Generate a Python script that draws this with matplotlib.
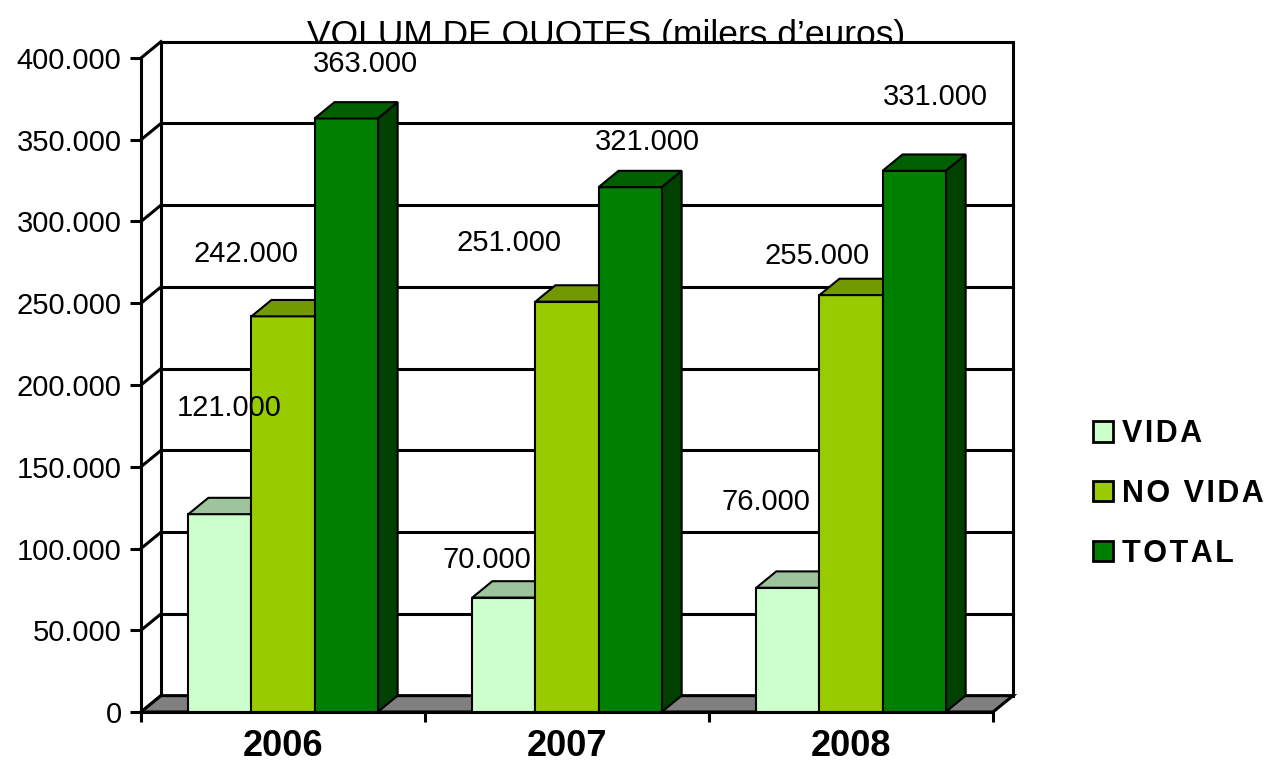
import matplotlib
matplotlib.use('Agg')
import matplotlib.pyplot as plt
from matplotlib.patches import Polygon, Patch, Rectangle


years = ['2006', '2007', '2008']
series = ['VIDA', 'NO VIDA', 'TOTAL']
vida = [121000, 70000, 76000]
no_vida = [242000, 251000, 255000]
total = [363000, 321000, 331000]
y_ticks = [0, 50000, 100000, 150000, 200000, 250000, 300000, 350000, 400000]

front_colors = ['#CCFFCC', '#99CC00', '#008000']
top_colors = ['#9DC49D', '#739900', '#006000']
side_colors = ['#7FA07F', '#4D6600', '#004000']

# where Excel dropped the value labels, pixels from the front top of each bar
label_dx = [[9, -37, 19], [-17, -58, 17], [-22, -34, 21]]
label_dy = [[106, 62, 54], [38, 59, 45], [86, 39, 74]]

DX = 0.0704    # depth of the 3d box, in category units
DY = 10000     # depth of the 3d box, in value units
GAP = 1.5      # gap width 150%
LW = 2.2

plt.rcParams['font.family'] = ['Liberation Sans', 'DejaVu Sans']


def fmt(v):
    return f"{v:,}".replace(',', '.')


fig = plt.figure(figsize=(12.7, 7.7), dpi=100)
ax = fig.add_axes([141 / 1270, 58 / 770, 852 / 1270, 654 / 770])
ax.patch.set_visible(False)
ax.set_xlim(0, len(years))
ax.set_ylim(0, y_ticks[-1])
ymax = y_ticks[-1]
n = len(years)

# back wall, floor and side wall
ax.add_patch(Rectangle((DX, DY), n, ymax, facecolor='white', edgecolor='black',
                       lw=LW, zorder=1, clip_on=False))
for v in y_ticks[1:-1]:
    ax.plot([DX, n + DX], [v + DY, v + DY], color='black', lw=LW, zorder=1.2, clip_on=False)
for v in y_ticks:
    ax.plot([0, DX], [v, v + DY], color='black', lw=LW, zorder=1.2, clip_on=False)
ax.add_patch(Polygon([(0, 0), (n, 0), (n + DX, DY), (DX, DY)], closed=True,
                     facecolor='#808080', edgecolor='black', lw=LW, zorder=1.5,
                     clip_on=False))

values = [vida, no_vida, total]
w = 1.0 / (len(series) + GAP)
for i in range(n):
    for j in range(len(series)):
        h = values[j][i]
        x0 = i + GAP * w / 2 + j * w
        z = 3 + i * 10 + j * 3
        ax.add_patch(Polygon([(x0 + w, 0), (x0 + w + DX, DY), (x0 + w + DX, h + DY), (x0 + w, h)],
                             closed=True, facecolor=side_colors[j], edgecolor='black',
                             lw=1.5, zorder=z, clip_on=False))
        ax.bar(x0, h, width=w, align='edge', color=front_colors[j], edgecolor='black',
               lw=1.5, zorder=z + 1)
        ax.add_patch(Polygon([(x0, h), (x0 + w, h), (x0 + w + DX, h + DY), (x0 + DX, h + DY)],
                             closed=True, facecolor=top_colors[j], edgecolor='black',
                             lw=1.5, zorder=z + 2, clip_on=False))
        ax.annotate(fmt(h), xy=(x0 + w / 2, h),
                    xytext=(label_dx[i][j] * 0.72, label_dy[i][j] * 0.72),
                    textcoords='offset points', ha='center', va='center',
                    fontsize=21, zorder=60, annotation_clip=False)

for s in ['top', 'right']:
    ax.spines[s].set_visible(False)
ax.spines['left'].set_linewidth(LW)
ax.spines['bottom'].set_linewidth(LW)
ax.spines['left'].set_zorder(2)
ax.spines['bottom'].set_zorder(2)

ax.set_yticks(y_ticks)
ax.set_yticklabels([fmt(v) for v in y_ticks], fontsize=21)
ax.tick_params(axis='y', direction='out', length=8, width=LW, pad=6)

ax.set_xticks(range(n + 1))
ax.set_xticklabels([''] * (n + 1))
ax.set_xticks([i + 0.5 for i in range(n)], minor=True)
ax.set_xticklabels(years, minor=True, fontsize=26, fontweight='bold')
ax.tick_params(axis='x', which='major', direction='out', length=7.5, width=LW)
ax.tick_params(axis='x', which='minor', length=0, pad=12.5)

fig.text(606 / 1270, 1 - 45 / 770, 'VOLUM DE QUOTES (milers d\u2019euros)',
         ha='center', va='baseline', fontsize=25.5, zorder=-1)

handles = [Patch(facecolor=c, edgecolor='black', lw=2) for c in front_colors]
labels = ['\u200a'.join(s) for s in series]
ax.legend(handles, labels, loc='center left',
          bbox_to_anchor=(1093 / 1270, (770 - 494) / 770), bbox_transform=fig.transFigure,
          frameon=False, prop={'weight': 'bold', 'size': 22},
          handlelength=0.65, handleheight=0.65, handletextpad=0.3,
          labelspacing=0.98, borderpad=0, borderaxespad=0)

fig.savefig('out.png', dpi=100)
